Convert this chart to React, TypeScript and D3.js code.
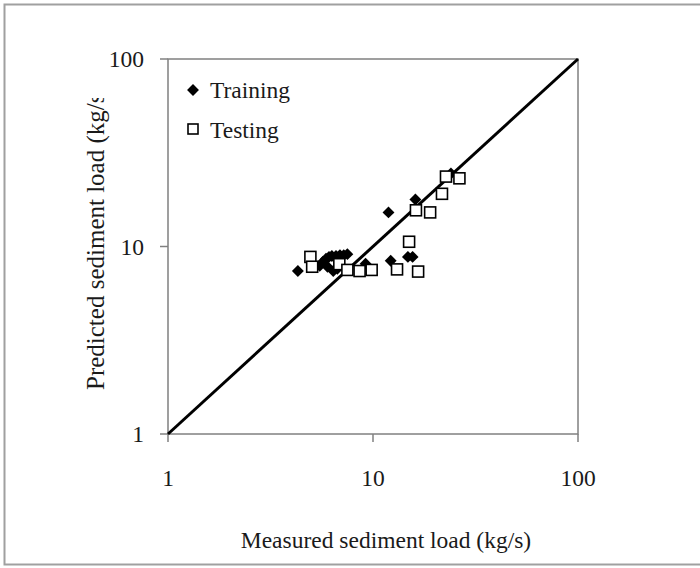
import React from "react";
import * as d3 from "d3";

const trainingX = [4.3, 5.5, 5.7, 5.9, 6.1, 6.3, 6.6, 6.9, 7.2, 7.5, 6.4, 6.7, 6.0, 9.2, 11.9, 12.2, 14.8, 15.6, 16.1, 24.0];
const trainingY = [7.4, 7.9, 8.3, 8.6, 8.8, 8.9, 8.9, 9.0, 9.0, 9.1, 7.4, 7.6, 7.8, 8.1, 15.2, 8.4, 8.8, 8.8, 17.8, 24.5];
const testingX = [4.95, 5.05, 6.85, 7.5, 8.6, 9.85, 13.1, 15.0, 16.6, 16.2, 19.0, 21.7, 22.7, 26.4];
const testingY = [8.8, 7.8, 8.05, 7.5, 7.4, 7.5, 7.55, 10.6, 7.35, 15.6, 15.2, 19.1, 23.6, 23.1];
const xTicks = [1, 10, 100];
const yTicks = [1, 10, 100];
const legendLabels = ["Training", "Testing"];
const xTitle = "Measured sediment load (kg/s)";
const yTitle = "Predicted sediment load (kg/s)";

export default function App() {
  const W = 700, H = 568;
  const x = d3.scaleLog().domain([1, 100]).range([168, 578]);
  const y = d3.scaleLog().domain([1, 100]).range([434, 59]);
  const font = "'Liberation Serif', 'Times New Roman', serif";
  const axisColor = "#808080";
  const txt = "#1a1a1a";
  const fs = 23.5;
  const diamond = d3.symbol().type(d3.symbolDiamond2).size(90)();
  const sq = 11;
  return (
    <svg width={W} height={H} style={{ position: "absolute", left: 0, top: 0 }}>
      <defs>
        <clipPath id="ytclip">
          <rect x={0} y={98} width={200} height={400} />
        </clipPath>
      </defs>
      <rect x={0} y={0} width={W} height={H} fill="#fff" />
      <rect x={4.5} y={4.5} width={W + 10} height={560} fill="none" stroke="#a0a0a0" strokeWidth={2} />
      <rect x={x(1)} y={y(100)} width={x(100) - x(1)} height={y(1) - y(100)} fill="none" stroke={axisColor} strokeWidth={1.5} />
      {xTicks.map((t) => (
        <g key={"xt" + t}>
          <line x1={x(t)} x2={x(t)} y1={y(1)} y2={y(1) + 8} stroke={axisColor} strokeWidth={1.5} />
          <text x={x(t)} y={y(1) + 52} textAnchor="middle" fontFamily={font} fontSize={fs} fill={txt}>{t}</text>
        </g>
      ))}
      {yTicks.map((t) => (
        <g key={"yt" + t}>
          <line x1={x(1) - 8} x2={x(1)} y1={y(t)} y2={y(t)} stroke={axisColor} strokeWidth={1.5} />
          <text x={x(1) - 24} y={y(t) + 8} textAnchor="end" fontFamily={font} fontSize={fs} fill={txt}>{t}</text>
        </g>
      ))}
      <line x1={x(1)} y1={y(1)} x2={x(100)} y2={y(100)} stroke="#000" strokeWidth={3} />
      {trainingX.map((v, i) => (
        <path key={"tr" + i} d={diamond} transform={`translate(${x(v)},${y(trainingY[i])})`} fill="#000" />
      ))}
      {testingX.map((v, i) => (
        <rect key={"te" + i} x={x(v) - sq / 2} y={y(testingY[i]) - sq / 2} width={sq} height={sq} fill="#fff" stroke="#000" strokeWidth={1.6} />
      ))}
      <path d={diamond} transform="translate(193,90)" fill="#000" />
      <text x={210} y={98} fontFamily={font} fontSize={fs} fill={txt}>{legendLabels[0]}</text>
      <rect x={188} y={124} width={10} height={10} fill="#fff" stroke="#000" strokeWidth={1.6} />
      <text x={210} y={138} fontFamily={font} fontSize={fs} fill={txt}>{legendLabels[1]}</text>
      <text x={386} y={548} textAnchor="middle" fontFamily={font} fontSize={fs} fill={txt}>{xTitle}</text>
      <g clipPath="url(#ytclip)">
        <text transform="translate(104,390) rotate(-90)" x={0} y={0} textAnchor="start" fontFamily={font} fontSize={25} fill={txt}>{yTitle}</text>
      </g>
    </svg>
  );
}
